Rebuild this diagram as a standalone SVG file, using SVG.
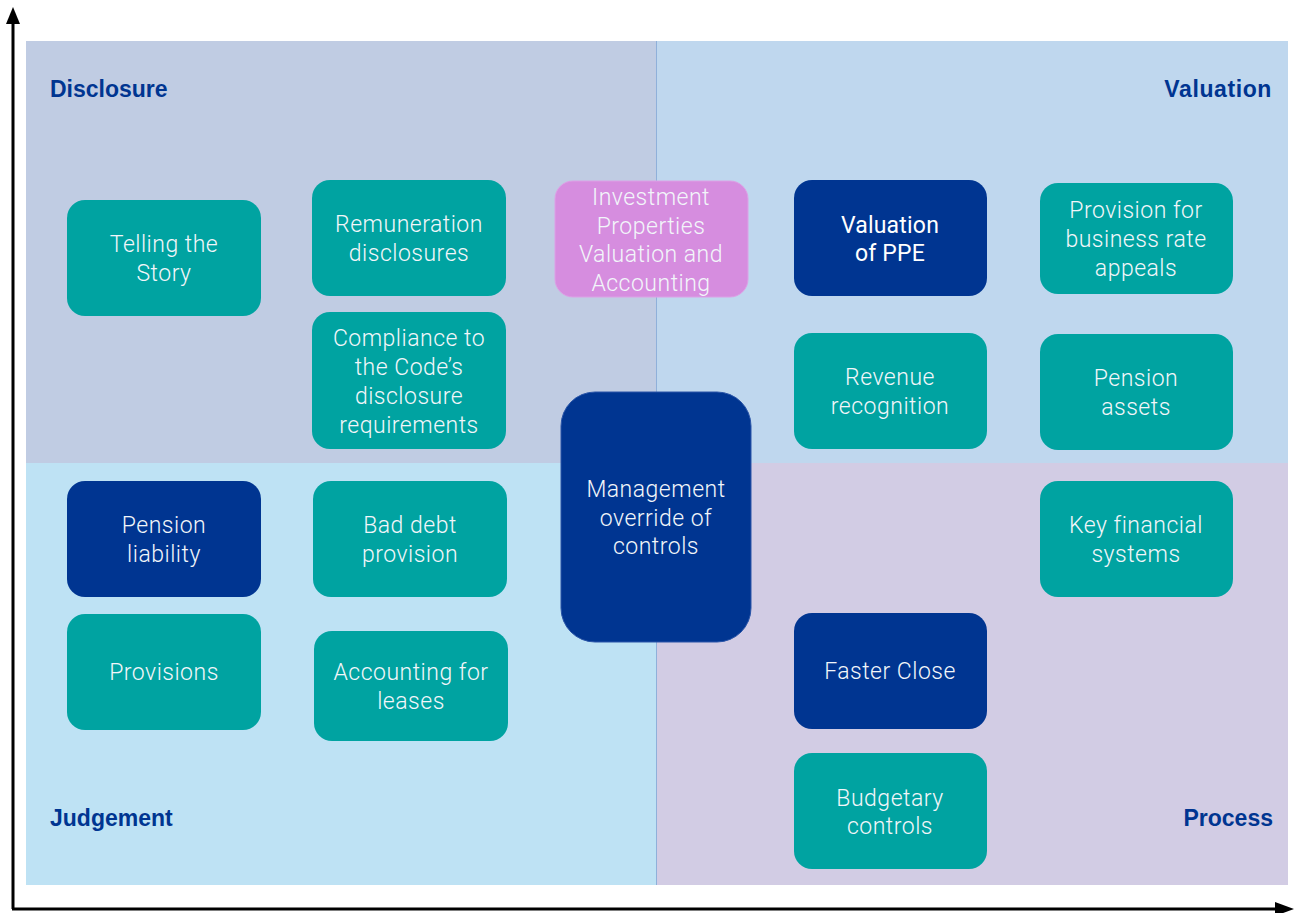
<svg xmlns="http://www.w3.org/2000/svg" width="1300" height="913" viewBox="0 0 1300 913">
<defs>
<style>
.q{stroke:none}
.n{fill:#00A3A1}
.d{fill:#003591}
.p{fill:#D68DDF;stroke:#DDA0E6;stroke-width:1}
.t{font-family:Roboto,"Liberation Sans",sans-serif;font-weight:300;font-size:23px;letter-spacing:0.5px;fill:#F2F6FA;text-anchor:middle}
.h{font-family:"Liberation Sans",Arial,sans-serif;font-weight:bold;font-size:23px;fill:#003591}
.ax{stroke:#000;stroke-width:3;fill:none}
</style>
</defs>
<g id="background">
<rect class="q" x="26" y="41" width="630" height="422" fill="#C0CCE3"/>
<rect class="q" x="656" y="41" width="632" height="422" fill="#BFD7EE"/>
<rect class="q" x="26" y="463" width="630" height="422" fill="#BEE2F4"/>
<rect class="q" x="656" y="463" width="632" height="422" fill="#D2CCE4"/>
<line x1="656.5" y1="41" x2="656.5" y2="885" stroke="#8FB0DA" stroke-width="1"/>
</g>
<g id="connectors">
<path d="M13,909 L13,22" class="ax"/>
<path d="M6,24 L13,7 L20,24 Z" fill="#000"/>
<path d="M12,909 L1278,909" class="ax"/>
<path d="M1275,902 L1294,909 L1275,916 Z" fill="#000"/>
</g>
<g id="labels">
<text class="h" x="50" y="97">Disclosure</text>
<text class="h" x="1272" y="97" text-anchor="end" letter-spacing="0.6">Valuation</text>
<text class="h" x="50" y="826">Judgement</text>
<text class="h" x="1273" y="826" text-anchor="end">Process</text>
</g>
<g id="telling">
<rect class="n" x="67" y="200" width="194" height="116" rx="18"/>
<text class="t" x="164" y="252">Telling the</text><text class="t" x="164" y="281">Story</text>
</g>
<g id="remuneration">
<rect class="n" x="312" y="180" width="194" height="116" rx="18"/>
<text class="t" x="409" y="232">Remuneration</text><text class="t" x="409" y="261">disclosures</text>
</g>
<g id="compliance">
<rect class="n" x="312" y="312" width="194" height="137" rx="18"/>
<text class="t" x="409" y="346">Compliance to</text><text class="t" x="409" y="375">the Code’s</text><text class="t" x="409" y="404">disclosure</text><text class="t" x="409" y="433">requirements</text>
</g>
<g id="investment">
<rect class="p" x="555" y="181" width="193" height="116" rx="18"/>
<text class="t" x="651" y="205">Investment</text><text class="t" x="651" y="234">Properties</text><text class="t" x="651" y="262">Valuation and</text><text class="t" x="651" y="291">Accounting</text>
</g>
<g id="ppe">
<rect class="d" x="794" y="180" width="193" height="116" rx="18"/>
<text class="t" x="890" y="233" style="fill:#fff;font-weight:400;letter-spacing:0.2px">Valuation</text><text class="t" x="890" y="261" style="fill:#fff;font-weight:400;letter-spacing:0.2px">of PPE</text>
</g>
<g id="business-rate">
<rect class="n" x="1040" y="183" width="193" height="111" rx="18"/>
<text class="t" x="1136" y="218">Provision for</text><text class="t" x="1136" y="247">business rate</text><text class="t" x="1136" y="276">appeals</text>
</g>
<g id="revenue">
<rect class="n" x="794" y="333" width="193" height="116" rx="18"/>
<text class="t" x="890" y="385">Revenue</text><text class="t" x="890" y="414">recognition</text>
</g>
<g id="pension-assets">
<rect class="n" x="1040" y="334" width="193" height="116" rx="18"/>
<text class="t" x="1136" y="386">Pension</text><text class="t" x="1136" y="415">assets</text>
</g>
<g id="management">
<rect class="d" x="561" y="392" width="190" height="250" rx="34" stroke="#2A55A8" stroke-width="1"/>
<text class="t" x="656" y="497">Management</text><text class="t" x="656" y="526">override of</text><text class="t" x="656" y="554">controls</text>
</g>
<g id="pension-liability">
<rect class="d" x="67" y="481" width="194" height="116" rx="18"/>
<text class="t" x="164" y="533">Pension</text><text class="t" x="164" y="562">liability</text>
</g>
<g id="bad-debt">
<rect class="n" x="313" y="481" width="194" height="116" rx="18"/>
<text class="t" x="410" y="533">Bad debt</text><text class="t" x="410" y="562">provision</text>
</g>
<g id="key-financial">
<rect class="n" x="1040" y="481" width="193" height="116" rx="18"/>
<text class="t" x="1136" y="533">Key financial</text><text class="t" x="1136" y="562">systems</text>
</g>
<g id="provisions">
<rect class="n" x="67" y="614" width="194" height="116" rx="18"/>
<text class="t" x="164" y="680">Provisions</text>
</g>
<g id="leases">
<rect class="n" x="314" y="631" width="194" height="110" rx="18"/>
<text class="t" x="411" y="680">Accounting for</text><text class="t" x="411" y="709">leases</text>
</g>
<g id="faster-close">
<rect class="d" x="794" y="613" width="193" height="116" rx="18"/>
<text class="t" x="890" y="679">Faster Close</text>
</g>
<g id="budgetary">
<rect class="n" x="794" y="753" width="193" height="116" rx="18"/>
<text class="t" x="890" y="806">Budgetary</text><text class="t" x="890" y="834">controls</text>
</g>
</svg>
